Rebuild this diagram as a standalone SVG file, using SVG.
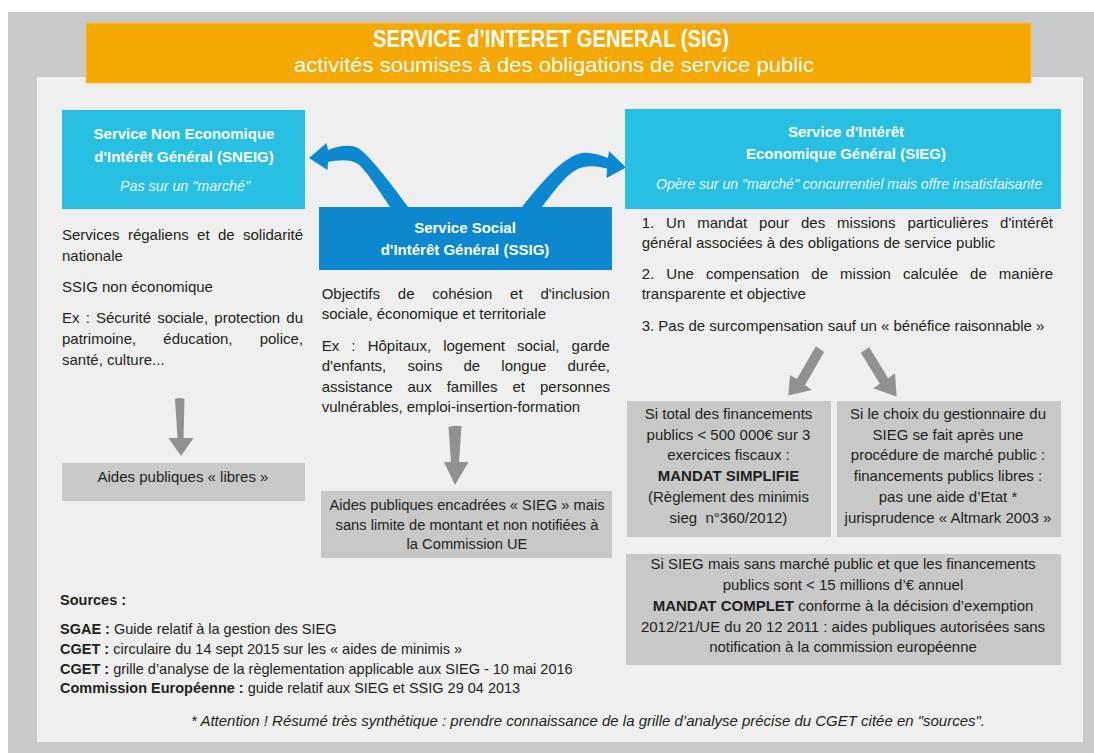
<svg xmlns="http://www.w3.org/2000/svg" width="1094" height="753" viewBox="0 0 1094 753">
<style>
text{font-family:"Liberation Sans",Arial,sans-serif;font-size:15px;fill:#231f20}
.b{font-weight:bold}
.w{fill:#ffffff}
.it{font-style:italic}
.c{text-anchor:middle}
.src{font-size:14.5px}
.hd{font-weight:bold;font-size:15px;fill:#ffffff;text-anchor:middle}
.sub{font-style:italic;font-size:15px;fill:#eaf8fc;text-anchor:middle}
.gbox{fill:#c8c8c9}
.cyan{fill:#27bfe2}
.blue{fill:#0b88cf}
.garrow{fill:#919191}
</style>
<rect x="8" y="12" width="1086" height="741" fill="#c8c9ca"/>
<rect x="37" y="77" width="1046" height="665" fill="#eeefee"/>

<g id="header">
<rect x="86" y="23" width="945" height="60" fill="#f5a800" stroke="#f7c25a" stroke-width="1"/>
<text x="551" y="47" class="c b w" style="font-size:23px" textLength="356" lengthAdjust="spacingAndGlyphs">SERVICE d’INTERET GENERAL (SIG)</text>
<text x="554" y="72" class="c w" style="font-size:20px" textLength="520" lengthAdjust="spacingAndGlyphs">activités soumises à des obligations de service public</text>
</g>

<g id="connectors">
<path class="blue" d="M309,158 L326.5,143 L328,150 C338,146 350,144 358,148 C368,154 390,182 408,207 L390,207 C380,192 366,170 358,164 C350,159 338,160 328,162 L327.5,170 Z"/>
<path class="blue" d="M626,167.5 L609,151 L608,158 C600,155 590,152 582,153 C565,156 545,178 522,207 L542,207 C555,190 568,172 580,168 C590,165 598,166 607,168.5 L606.5,178 Z"/>
<path class="garrow" d="M175,399 Q179.5,397 184.5,399 L183.5,438 L193.5,438 L181,456 L168.5,438 L177.5,438 Z"/>
<path class="garrow" d="M448.5,427 Q455,425 461.5,426 L459,462 L468.5,462 L455,485 L444,462 L451,462 Z"/>
<path class="garrow" d="M815.9,346.2 L824.1,351.9 L805.1,384.9 L811.7,390 L788.3,395.5 L790,375 L796.9,379.1 Z"/>
<path class="garrow" d="M860.8,352.8 L869.2,347.2 L888.2,378.2 L895,373.3 L896.7,396.7 L873.3,388.3 L879.8,383.8 Z"/>
</g>

<g id="sneig">
<rect class="cyan" x="62" y="110" width="243" height="99"/>
<text x="184" y="139" class="hd">Service Non Economique</text>
<text x="184" y="162" class="hd">d'Intérêt Général (SNEIG)</text>
<text x="185" y="191" class="sub" textLength="130" lengthAdjust="spacingAndGlyphs">Pas sur un "marché"</text>
</g>

<g id="sneig-text">
<text y="240"><tspan x="62">Services</tspan><tspan x="127.9">régaliens</tspan><tspan x="197.1">et</tspan><tspan x="218">de</tspan><tspan x="243">solidarité</tspan></text>
<text x="62" y="261">nationale</text>
<text x="62" y="292">SSIG non économique</text>
<text y="323"><tspan x="62">Ex</tspan><tspan x="85.7">:</tspan><tspan x="96">Sécurité</tspan><tspan x="157.2">sociale,</tspan><tspan x="214.3">protection</tspan><tspan x="286.3">du</tspan></text>
<text y="344"><tspan x="62">patrimoine,</tspan><tspan x="163.3">éducation,</tspan><tspan x="259.7">police,</tspan></text>
<text x="62" y="365">santé, culture...</text>
</g>

<g id="ssig">
<rect class="blue" x="319" y="207" width="293" height="63"/>
<text x="465" y="233" class="hd">Service Social</text>
<text x="465" y="255" class="hd">d'Intérêt Général (SSIG)</text>
</g>

<g id="ssig-text">
<text y="299"><tspan x="321.7">Objectifs</tspan><tspan x="397.8">de</tspan><tspan x="432.3">cohésion</tspan><tspan x="510.1">et</tspan><tspan x="540.4">d'inclusion</tspan></text>
<text x="321.7" y="319">sociale, économique et territoriale</text>
<text y="350.7"><tspan x="321.7">Ex</tspan><tspan x="351.3">:</tspan><tspan x="367.7">Hôpitaux,</tspan><tspan x="443.2">logement</tspan><tspan x="517">social,</tspan><tspan x="571.6">garde</tspan></text>
<text y="371"><tspan x="321.7">d'enfants,</tspan><tspan x="407.4">soins</tspan><tspan x="463.5">de</tspan><tspan x="501.3">longue</tspan><tspan x="567.5">durée,</tspan></text>
<text y="391.7"><tspan x="321.7">assistance</tspan><tspan x="407.5">aux</tspan><tspan x="446.7">familles</tspan><tspan x="512.5">et</tspan><tspan x="540">personnes</tspan></text>
<text x="321.7" y="411.7">vulnérables, emploi-insertion-formation</text>
</g>

<g id="sieg">
<rect class="cyan" x="625" y="109" width="436" height="100"/>
<text x="846" y="137" class="hd">Service d'Intérêt</text>
<text x="846" y="159" class="hd">Economique Général (SIEG)</text>
<text x="849" y="189" class="sub" textLength="386" lengthAdjust="spacingAndGlyphs">Opère sur un "marché" concurrentiel mais offre insatisfaisante</text>
</g>

<g id="sieg-text">
<text y="227.7"><tspan x="641.7">1.</tspan><tspan x="666.1">Un</tspan><tspan x="697.2">mandat</tspan><tspan x="759.1">pour</tspan><tspan x="801">des</tspan><tspan x="837.1">missions</tspan><tspan x="907.4">particulières</tspan><tspan x="1000.1">d'intérêt</tspan></text>
<text x="641.7" y="247.7">général associées à des obligations de service public</text>
<text y="279.3"><tspan x="641.7">2.</tspan><tspan x="666.3">Une</tspan><tspan x="705.9">compensation</tspan><tspan x="811.3">de</tspan><tspan x="840.1">mission</tspan><tspan x="903">calculée</tspan><tspan x="970.1">de</tspan><tspan x="998.8">manière</tspan></text>
<text x="641.7" y="299.3">transparente et objective</text>
<text x="641.7" y="330.7">3. Pas de surcompensation sauf un « bénéfice raisonnable »</text>
</g>

<g id="aides-libres">
<rect class="gbox" x="62" y="463" width="243" height="38"/>
<text x="183" y="482" class="c">Aides publiques « libres »</text>
</g>

<g id="aides-encadrees">
<rect class="gbox" x="321" y="491" width="291" height="67"/>
<text x="467" y="509.5" class="c" style="font-size:14.7px">Aides publiques encadrées « SIEG » mais</text>
<text x="467" y="529.5" class="c" style="font-size:14.7px">sans limite de montant et non notifiées à</text>
<text x="467" y="549" class="c" style="font-size:14.7px">la Commission UE</text>
</g>

<g id="mandat-simplifie">
<rect class="gbox" x="627" y="401" width="204" height="136"/>
<text x="728.5" y="418.5" class="c">Si total des financements</text>
<text x="728.5" y="439.5" class="c">publics &lt; 500 000€ sur 3</text>
<text x="728.5" y="460" class="c">exercices fiscaux :</text>
<text x="728.5" y="481" class="c b">MANDAT SIMPLIFIE</text>
<text x="728.5" y="502" class="c">(Règlement des minimis</text>
<text x="728.5" y="523" class="c" xml:space="preserve">sieg  n°360/2012)</text>
</g>

<g id="marche-public">
<rect class="gbox" x="837" y="401" width="224" height="136"/>
<text x="948" y="418.5" class="c">Si le choix du gestionnaire du</text>
<text x="948" y="439.5" class="c">SIEG se fait après une</text>
<text x="948" y="460" class="c">procédure de marché public :</text>
<text x="948" y="481" class="c">financements publics libres :</text>
<text x="948" y="502" class="c">pas une aide d’Etat *</text>
<text x="948" y="523" class="c">jurisprudence « Altmark 2003 »</text>
</g>

<g id="mandat-complet">
<rect class="gbox" x="626" y="554" width="435" height="111"/>
<text x="843" y="569" class="c">Si SIEG mais sans marché public et que les financements</text>
<text x="843" y="590" class="c">publics sont &lt; 15 millions d’€ annuel</text>
<text x="843" y="611" class="c"><tspan class="b">MANDAT COMPLET</tspan> conforme à la décision d’exemption</text>
<text x="843" y="631.5" class="c">2012/21/UE du 20 12 2011 : aides publiques autorisées sans</text>
<text x="843" y="652" class="c">notification à la commission européenne</text>
</g>

<g id="sources">
<text x="60" y="605" class="b src">Sources :</text>
<text x="60" y="634" class="src"><tspan class="b">SGAE :</tspan> Guide relatif à la gestion des SIEG</text>
<text x="60" y="653.5" class="src"><tspan class="b">CGET :</tspan> circulaire du 14 sept 2015 sur les « aides de minimis »</text>
<text x="60" y="673.5" class="src"><tspan class="b">CGET :</tspan> grille d’analyse de la règlementation applicable aux SIEG - 10 mai 2016</text>
<text x="60" y="693" class="src"><tspan class="b">Commission Européenne :</tspan> guide relatif aux SIEG et SSIG 29 04 2013</text>
</g>

<g id="footer">
<text x="588" y="726" class="c it" textLength="794" lengthAdjust="spacingAndGlyphs">* Attention ! Résumé très synthétique : prendre connaissance de la grille d’analyse précise du CGET citée en "sources".</text>
</g>
</svg>
